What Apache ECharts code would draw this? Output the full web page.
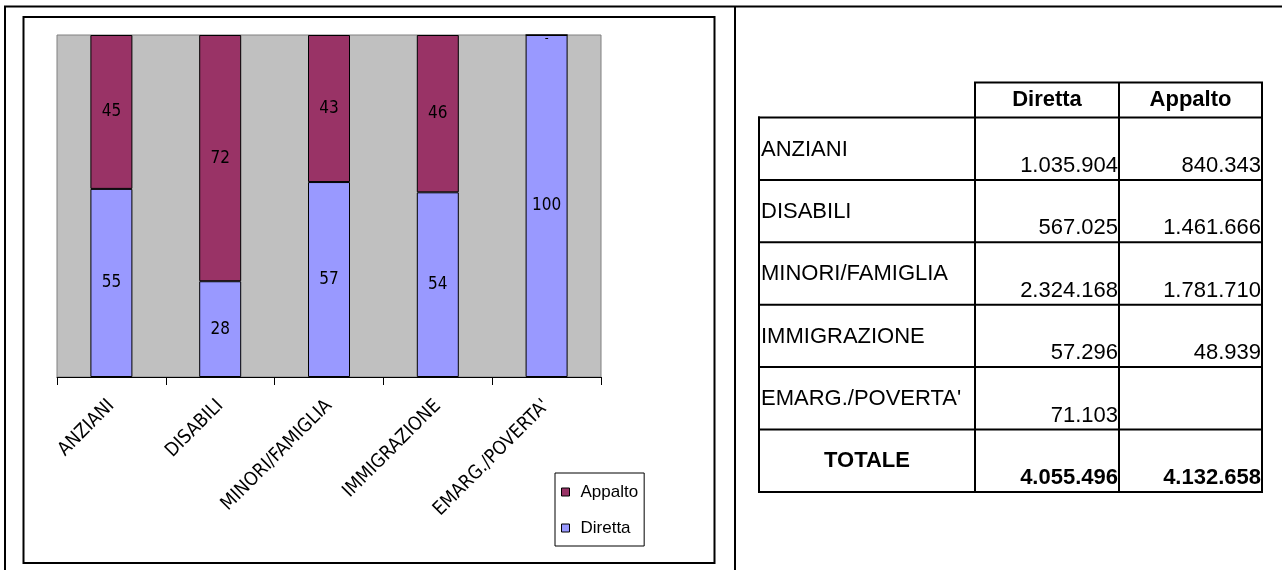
<!DOCTYPE html>
<html>
<head>
<meta charset="utf-8">
<title>Diretta / Appalto</title>
<script src="https://cdn.jsdelivr.net/npm/echarts@6/dist/echarts.min.js"></script>
<style>
  html, body { margin: 0; padding: 0; background: #fff; }
  #main { width: 1282px; height: 570px; }
</style>
</head>
<body>
<div id="main"></div>
<script>
// Aree di intervento
const categories = ['ANZIANI', 'DISABILI', 'MINORI/FAMIGLIA', 'IMMIGRAZIONE', "EMARG./POVERTA'"];

// Quote percentuali per area (gestione diretta / in appalto)
const percDiretta = [55, 28, 57, 54, 100];
const percAppalto = [45, 72, 43, 46, 0];

// Importi in euro della tabella
const importiDiretta = [1035904, 567025, 2324168, 57296, 71103];
const importiAppalto = [840343, 1461666, 1781710, 48939, null];
const tableHeaders = ['Diretta', 'Appalto'];
const totalLabel = 'TOTALE';
const totaleDiretta = 4055496;
const totaleAppalto = 4132658;

const NARROW = '"Liberation Sans Narrow", "Arial Narrow", "DejaVu Sans Condensed", sans-serif';
const SANS = '"Liberation Sans", Arial, sans-serif';

function fmt(n) {
  if (n === null || n === undefined) return '';
  return String(n).replace(/\B(?=(\d{3})+(?!\d))/g, '.');
}

// --- table drawn as graphic elements ---
const T = {
  colX: [759, 975, 1119, 1262],
  headTop: 82.5,
  bodyTop: 117.5,
  rowH: 62.4,
  nRows: categories.length + 1
};
const bodyBottom = T.bodyTop + T.rowH * T.nRows;
const g = [];
function hline(x1, x2, y, w) {
  g.push({ type: 'line', shape: { x1: x1, y1: y, x2: x2, y2: y }, style: { stroke: '#000', lineWidth: w || 2 } });
}
function vline(x, y1, y2, w) {
  g.push({ type: 'line', shape: { x1: x, y1: y1, x2: x, y2: y2 }, style: { stroke: '#000', lineWidth: w || 2 } });
}
function txt(text, x, y, align, bold) {
  g.push({
    type: 'text', x: x, y: y,
    style: {
      text: text, align: align, verticalAlign: 'middle', fill: '#000',
      fontSize: 22, fontFamily: SANS, fontWeight: bold ? 'bold' : 'normal'
    }
  });
}

// page frame
hline(4, 1282, 6.5, 2);
vline(5, 6, 570, 2);
vline(735, 6, 570, 2);

// chart frame
g.push({
  type: 'rect', shape: { x: 23.5, y: 17, width: 691, height: 546 },
  style: { fill: 'none', stroke: '#000', lineWidth: 2 }
});

// header cells
hline(T.colX[1] - 1, T.colX[3] + 1, T.headTop);
vline(T.colX[1], T.headTop, bodyBottom);
vline(T.colX[2], T.headTop, bodyBottom);
vline(T.colX[3], T.headTop, bodyBottom);
tableHeaders.forEach(function (h, i) {
  txt(h, (T.colX[i + 1] + T.colX[i + 2]) / 2, (T.headTop + T.bodyTop) / 2, 'center', true);
});

// body rows
vline(T.colX[0], T.bodyTop - 1, bodyBottom + 1);
for (let r = 0; r <= T.nRows; r++) {
  hline(T.colX[0] - 1, T.colX[3] + 1, T.bodyTop + r * T.rowH);
}
categories.forEach(function (c, i) {
  const top = T.bodyTop + i * T.rowH;
  txt(c, T.colX[0] + 2, top + 32, 'left', false);
  txt(fmt(importiDiretta[i]), T.colX[2] - 1, top + 48.5, 'right', false);
  txt(fmt(importiAppalto[i]), T.colX[3] - 1, top + 48.5, 'right', false);
});
const totTop = T.bodyTop + categories.length * T.rowH;
txt(totalLabel, (T.colX[0] + T.colX[1]) / 2, totTop + 31.5, 'center', true);
txt(fmt(totaleDiretta), T.colX[2] - 1, totTop + 48, 'right', true);
txt(fmt(totaleAppalto), T.colX[3] - 1, totTop + 48, 'right', true);

// --- stacked bar chart ---
const chart = echarts.init(document.getElementById('main'), null, { renderer: 'canvas' });

const labelStyle = {
  show: true,
  position: 'inside',
  color: '#000',
  fontSize: 17,
  fontFamily: NARROW
};

chart.setOption({
  animation: false,
  backgroundColor: '#fff',
  grid: {
    left: 57, top: 35, width: 544, height: 342,
    show: true, backgroundColor: '#C0C0C0', borderColor: '#808080', borderWidth: 1
  },
  legend: {
    data: ['Appalto', 'Diretta'],
    orient: 'vertical',
    left: 555, top: 473,
    padding: [9, 6, 8, 6],
    itemGap: 16,
    itemWidth: 8, itemHeight: 8,
    icon: 'rect',
    backgroundColor: '#fff',
    borderColor: '#000', borderWidth: 1, borderRadius: 0,
    itemStyle: { borderColor: '#000', borderWidth: 1 },
    textStyle: { color: '#000', fontSize: 17, fontFamily: SANS, lineHeight: 20, padding: [0, 0, 0, 6] }
  },
  xAxis: {
    type: 'category',
    data: categories,
    axisLine: { show: true, lineStyle: { color: '#000', width: 1 } },
    axisTick: { show: true, length: 8, lineStyle: { color: '#000', width: 1 } },
    axisLabel: {
      interval: 0, rotate: 45, margin: 26,
      color: '#000', fontSize: 19, fontFamily: NARROW
    }
  },
  yAxis: { type: 'value', min: 0, max: 100, show: false },
  series: [
    {
      name: 'Diretta', type: 'bar', stack: 'tot', barWidth: 42,
      data: percDiretta,
      itemStyle: { color: '#9999FF', borderColor: '#000', borderWidth: 1 },
      label: labelStyle
    },
    {
      name: 'Appalto', type: 'bar', stack: 'tot', barWidth: 42,
      data: percAppalto,
      itemStyle: { color: '#993366', borderColor: '#000', borderWidth: 1 },
      label: Object.assign({}, labelStyle, {
        // a zero share is shown as a small dash at the top of the column
        formatter: function (p) { return p.value === 0 ? '{dash|-}' : String(p.value); },
        rich: { dash: { fontSize: 12, fontFamily: NARROW, color: '#000', padding: [8, 0, 0, 0] } }
      })
    }
  ],
  graphic: g
});
</script>
</body>
</html>
